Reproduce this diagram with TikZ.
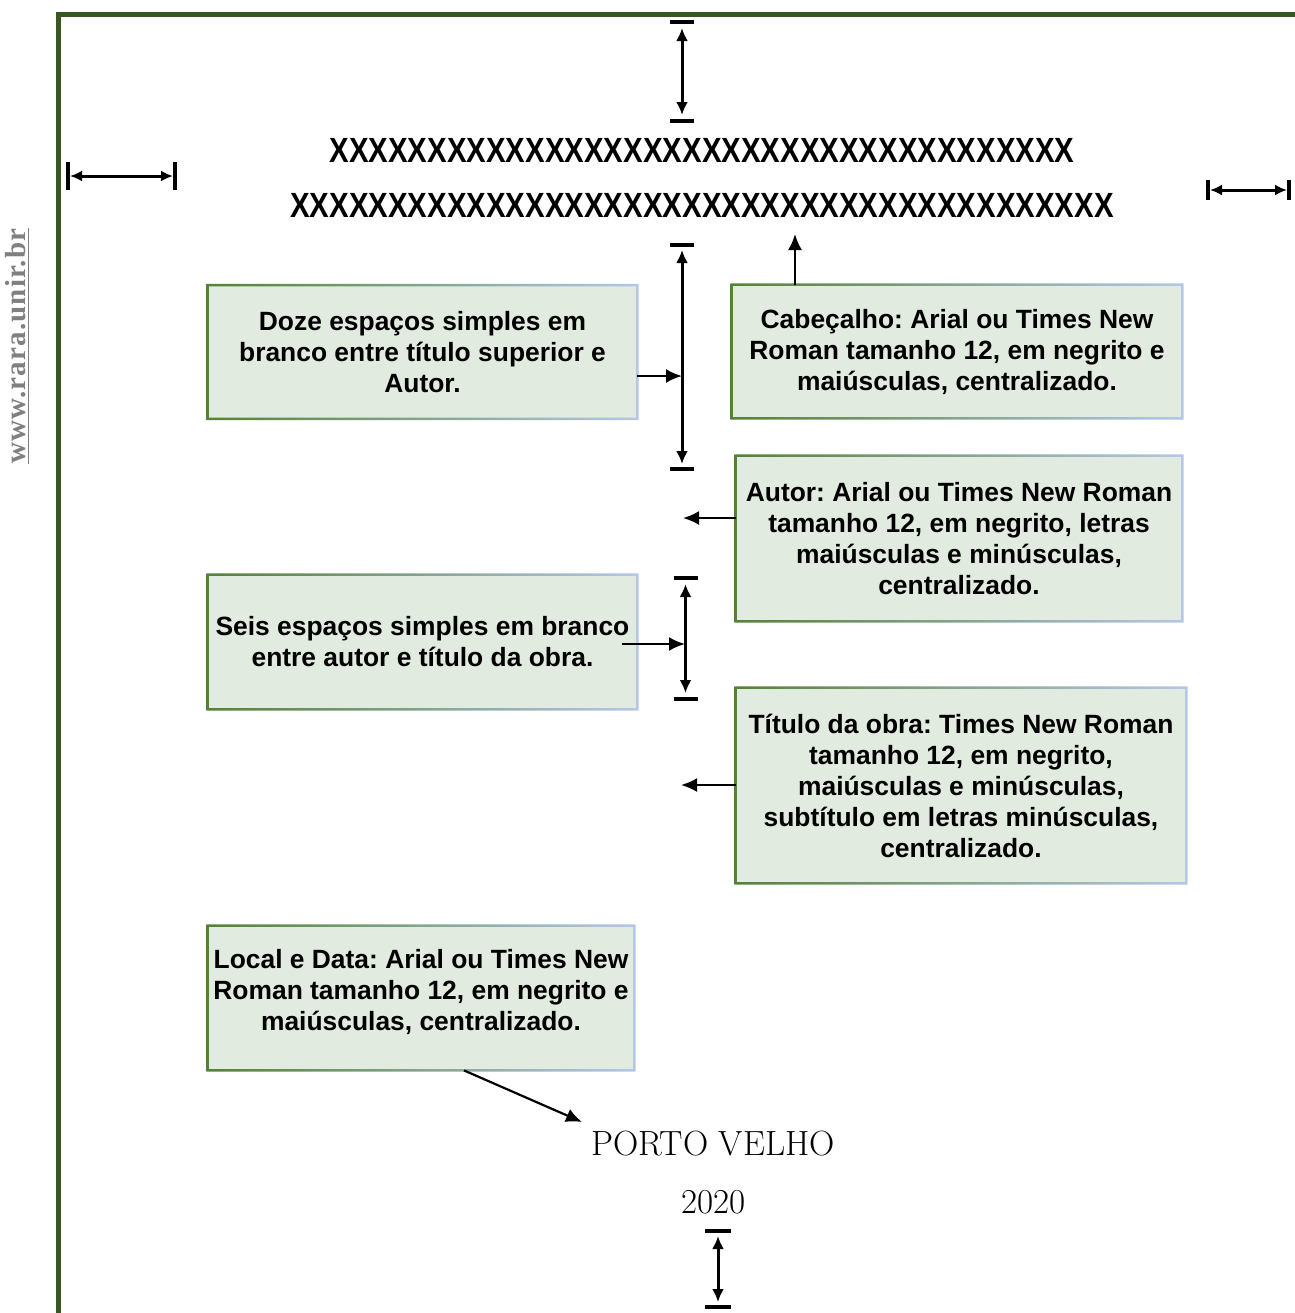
\documentclass[tikz,border=0pt]{standalone}
\usepackage{fontspec}
\usepackage{graphicx}
\newfontfamily\arialfont{Liberation Sans}
\newfontfamily\wmfont[LetterSpace=4]{Liberation Serif}
\usetikzlibrary{arrows.meta,calc}
\definecolor{framegreen}{RGB}{56,87,35}
\definecolor{boxfill}{RGB}{226,235,223}
\definecolor{edgegreen}{RGB}{84,130,53}
\definecolor{edgeblue}{RGB}{180,199,231}
\definecolor{wmgray}{RGB}{128,128,128}
\frenchspacing

\begin{document}
\begin{tikzpicture}[x=0.5pt,y=-0.5pt,
  infobox/.style={fill=boxfill, align=center, inner sep=0pt,
    font=\arialfont\bfseries\fontsize{13.2}{15.5}\selectfont},
  xrow/.style={inner sep=0pt, font=\arialfont\bfseries\fontsize{17.5}{20}\selectfont},
  watermark/.style={rotate=90, inner sep=0pt, text=wmgray,
    font=\wmfont\bfseries\fontsize{14.5}{16}\selectfont},
  serifline/.style={inner sep=0pt, font=\fontsize{17.5}{20}\selectfont},
  dimbar/.style={line width=2pt},
  dimarrow/.style={line width=1.5pt,
    {Latex[length=6.5pt,width=6pt]}-{Latex[length=6.5pt,width=6pt]}},
  hdimbar/.style={line width=1.6pt},
  hdimarrow/.style={line width=1.5pt,
    {Latex[length=6pt,width=5.5pt]}-{Latex[length=6pt,width=5.5pt]}},
  pointer/.style={line width=1.1pt, -{Latex[length=8pt,width=7pt]}},
]
\useasboundingbox (0,0) rectangle (1295,1313);

% page margin frame
\draw[framegreen, line width=2.5pt] (1295,14.5) -- (58.5,14.5) -- (58.5,1313);

% side watermark
\node[watermark, anchor=south] (wm) at (26,346) {www.rara.unir.br};
\draw[wmgray, line width=0.8pt] ([xshift=1.2pt]wm.south west) -- ([xshift=1.2pt]wm.south east);

% heading lines
\node[xrow, anchor=base] (row1) at (702,162)
  {\scalebox{0.84}[1]{XXXXXXXXXXXXXXXXXXXXXXXXXXXXXXXXXXXXXX}};
\node[xrow, anchor=base] (row2) at (702,217)
  {\scalebox{0.84}[1]{XXXXXXXXXXXXXXXXXXXXXXXXXXXXXXXXXXXXXXXXXX}};

% top margin
\coordinate (topA) at (682,22);
\coordinate (topB) at (682,121);
\draw[dimbar] ([xshift=-6pt]topA) -- ([xshift=6pt]topA);
\draw[dimbar] ([xshift=-6pt]topB) -- ([xshift=6pt]topB);
\draw[dimarrow] ([yshift=-3pt]topA) -- ([yshift=3pt]topB);

% left margin
\coordinate (leftA) at (68,176);
\coordinate (leftB) at (175,176);
\draw[hdimbar] ([yshift=7pt]leftA) -- ([yshift=-7pt]leftA);
\draw[hdimbar] ([yshift=7pt]leftB) -- ([yshift=-7pt]leftB);
\draw[hdimarrow] ([xshift=1pt]leftA) -- ([xshift=-1pt]leftB);

% right margin
\coordinate (rightA) at (1208,190);
\coordinate (rightB) at (1289,190);
\draw[hdimbar] ([yshift=5pt]rightA) -- ([yshift=-5pt]rightA);
\draw[hdimbar] ([yshift=5pt]rightB) -- ([yshift=-5pt]rightB);
\draw[hdimarrow] ([xshift=1pt]rightA) -- ([xshift=-1pt]rightB);

% spacing between heading and author
\coordinate (midA) at (682,245);
\coordinate (midB) at (682,469);
\draw[dimbar] ([xshift=-6pt]midA) -- ([xshift=6pt]midA);
\draw[dimbar] ([xshift=-6pt]midB) -- ([xshift=6pt]midB);
\draw[dimarrow] ([yshift=-2.5pt]midA) -- ([yshift=2.5pt]midB);

% spacing between author and title
\coordinate (lowA) at (685.5,578);
\coordinate (lowB) at (685.5,699);
\draw[dimbar] ([xshift=-6pt]lowA) -- ([xshift=6pt]lowA);
\draw[dimbar] ([xshift=-6pt]lowB) -- ([xshift=6pt]lowB);
\draw[dimarrow] ([yshift=-3pt]lowA) -- ([yshift=3pt]lowB);

% bottom margin
\coordinate (botA) at (718,1231);
\coordinate (botB) at (718,1307);
\draw[dimbar] ([xshift=-6.5pt]botA) -- ([xshift=6.5pt]botA);
\draw[dimbar] ([xshift=-6.5pt]botB) -- ([xshift=6.5pt]botB);
\draw[dimarrow] ([yshift=-2.5pt]botA) -- ([yshift=2.5pt]botB);

% explanation boxes
\node[infobox, minimum width=214.5pt, minimum height=66.5pt] (doze) at (422.5,352)
  {Doze espaços simples em\\branco entre título superior e\\Autor.};
\node[infobox, minimum width=225pt, minimum height=66.5pt] (cab) at (957,351.5)
  {Cabeçalho: Arial ou Times New\\Roman tamanho 12, em negrito e\\maiúsculas, centralizado.};
\node[infobox, minimum width=223pt, minimum height=82.5pt] (autor) at (959,538.5)
  {Autor: Arial ou Times New Roman\\tamanho 12, em negrito, letras\\maiúsculas e minúsculas,\\centralizado.};
\node[infobox, minimum width=214.5pt, minimum height=67pt] (seis) at (422.5,642)
  {Seis espaços simples em branco\\entre autor e título da obra.};
\node[infobox, minimum width=225pt, minimum height=97.5pt] (titulo) at (961,785.5)
  {Título da obra: Times New Roman\\tamanho 12, em negrito,\\maiúsculas e minúsculas,\\subtítulo em letras minúsculas,\\centralizado.};
\node[infobox, minimum width=213pt, minimum height=72pt] (local) at (421,998)
  {Local e Data: Arial ou Times New\\Roman tamanho 12, em negrito e\\maiúsculas, centralizado.\\[-7.5pt]};

% box outlines, green fading into blue
\foreach \bx in {doze,cab,autor,seis,titulo,local} {
  \shade[left color=edgegreen, right color=edgeblue, even odd rule]
    ([shift={(-0.6pt,-0.6pt)}]\bx.south west) rectangle ([shift={(0.6pt,0.6pt)}]\bx.north east)
    ([shift={(0.6pt,0.6pt)}]\bx.south west) rectangle ([shift={(-0.6pt,-0.6pt)}]\bx.north east);
}

% pointers from the boxes
\coordinate (dozeT) at (682,376);
\draw[pointer] (doze.east |- dozeT) -- (dozeT);
\coordinate (cabT) at (795,234);
\draw[pointer] (cab.north -| cabT) -- (cabT);
\coordinate (autT) at (683,518);
\draw[pointer] (autor.west |- autT) -- (autT);
\coordinate (seisT) at (685,644);
\draw[pointer] ($(seis.east |- seisT)+(-15,0)$) -- (seisT);
\coordinate (titT) at (681,785);
\draw[pointer] (titulo.west |- titT) -- (titT);
\coordinate (locS) at (464,1070);
\coordinate (locT) at (582,1122);
\draw[pointer] (local.south -| locS) -- (locT);

% place and year
\node[serifline, anchor=base] (city) at (713,1155) {PORTO VELHO};
\node[serifline, anchor=base] (year) at (713.5,1213) {2020};
\end{tikzpicture}
\end{document}
